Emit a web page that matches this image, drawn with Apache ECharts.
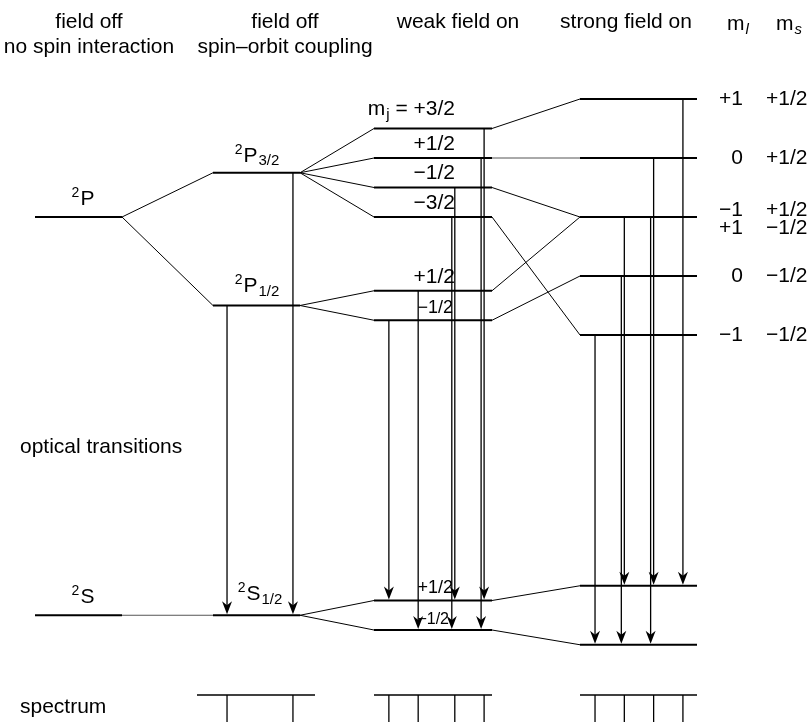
<!DOCTYPE html>
<html>
<head>
<meta charset="utf-8">
<script src="https://cdn.jsdelivr.net/npm/echarts@6/dist/echarts.min.js"></script>
<style>
  html, body { margin: 0; padding: 0; background: #fff; }
  #chart { width: 812px; height: 722px; }
</style>
</head>
<body>
<div id="chart"></div>
<script>
// ---- Energies (arbitrary units, ²P centroid at 0) ----
const termP = 0;                        // ²P, no spin interaction
const termS = -13.5;                    // ²S
const fineP = [1.5, -3];                // ²P3/2, ²P1/2
const fineS = [-13.5];                  // ²S1/2
const weakP32 = [3, 2, 1, 0];           // m_j = +3/2, +1/2, −1/2, −3/2
const weakP12 = [-2.5, -3.5];           // m_j = +1/2, −1/2
const weakS12 = [-13, -14];             // m_j = +1/2, −1/2
const strongP = [4, 2, 0, -2, -4];      // (m_l, m_s) levels
const strongS = [-12.5, -14.5];         // m_s = +1/2, −1/2

// where each weak-field sublevel goes in the strong field
const weakP32ToStrong = [strongP[0], strongP[1], strongP[2], strongP[4]];
const weakP12ToStrong = [strongP[2], strongP[3]];
const weakSToStrong = [strongS[0], strongS[1]];

// ---- Labels ----
const mjP32Labels = ['+3/2', '+1/2', '−1/2', '−3/2'];
const mjP12Labels = ['+1/2', '−1/2'];
const mjSLabels = ['+1/2', '−1/2'];
const mlLabels = ['+1', '0', '−1', '+1', '0', '−1'];
const msLabels = ['+1/2', '+1/2', '+1/2', '−1/2', '−1/2', '−1/2'];
const mlmsLevel = [strongP[0], strongP[1], strongP[2], strongP[2], strongP[3], strongP[4]];

// ---- Optical transitions [upper, lower] ----
const fineTransitions = [[fineP[1], fineS[0]], [fineP[0], fineS[0]]];
const weakTransitions = [
  [weakP12[1], weakS12[0]], [weakP12[0], weakS12[1]],
  [weakP32[3], weakS12[1]], [weakP32[2], weakS12[0]],
  [weakP32[1], weakS12[1]], [weakP32[0], weakS12[0]]
];
const strongTransitions = [
  [strongP[4], strongS[1]], [strongP[3], strongS[1]],
  [strongP[2], strongS[1]], [strongP[2], strongS[0]],
  [strongP[1], strongS[0]], [strongP[0], strongS[0]]
];

// ---- Layout ----
const FONT = '"Liberation Sans", Arial, Helvetica, sans-serif';
const COL = { col1: [35, 122], col2: [213, 300], weak: [374, 492], strong: [580, 697] };
const SPEC = {
  y: 695, k: 14.65,
  ref: { col2: 73.2, weak: 249.7, strong: 441.2 },
  bar: { col2: [197, 315], weak: [374, 492], strong: [580, 697] }
};

const rich = {
  t: { fontSize: 21, fontFamily: FONT, fill: '#000', lineHeight: 26 },
  ts: { fontSize: 18, fontFamily: FONT, fill: '#000', lineHeight: 26 },
  tx: { fontSize: 16, fontFamily: FONT, fill: '#000', lineHeight: 26 },
  sup: { fontSize: 14, fontFamily: FONT, fill: '#000', lineHeight: 14, padding: [0, 1, 12, 0] },
  sub: { fontSize: 15, fontFamily: FONT, fill: '#000', lineHeight: 15, padding: [11, 0, 0, 1] },
  subi: { fontSize: 15, fontFamily: FONT, fontStyle: 'italic', fill: '#000', lineHeight: 15, padding: [11, 0, 0, 1] }
};

// ---- Build segments ----
const levels = [];
const links = [];
const thinLinks = [];
function lvl(range, e) { levels.push([range[0], e, range[1], e]); }
lvl(COL.col1, termP); lvl(COL.col1, termS);
fineP.forEach(e => lvl(COL.col2, e)); fineS.forEach(e => lvl(COL.col2, e));
weakP32.forEach(e => lvl(COL.weak, e)); weakP12.forEach(e => lvl(COL.weak, e)); weakS12.forEach(e => lvl(COL.weak, e));
strongP.forEach(e => lvl(COL.strong, e)); strongS.forEach(e => lvl(COL.strong, e));

function link(x0, e0, x1, e1) { (e0 === e1 ? thinLinks : links).push([x0, e0, x1, e1]); }
fineP.forEach(e => link(COL.col1[1], termP, COL.col2[0], e));
link(COL.col1[1], termS, COL.col2[0], fineS[0]);
weakP32.forEach(e => link(COL.col2[1], fineP[0], COL.weak[0], e));
weakP12.forEach(e => link(COL.col2[1], fineP[1], COL.weak[0], e));
weakS12.forEach(e => link(COL.col2[1], fineS[0], COL.weak[0], e));
weakP32.forEach((e, i) => link(COL.weak[1], e, COL.strong[0], weakP32ToStrong[i]));
weakP12.forEach((e, i) => link(COL.weak[1], e, COL.strong[0], weakP12ToStrong[i]));
weakS12.forEach((e, i) => link(COL.weak[1], e, COL.strong[0], weakSToStrong[i]));

// ---- Transitions: horizontal place follows the transition energy ----
const arrows = [];
const ticks = [];
function addTransitions(list, key, lowerFloor) {
  const seen = {};
  list.forEach(([u, l]) => {
    const dE = u - l;
    const twin = list.some(([u2, l2]) => (u2 !== u || l2 !== l) && Math.abs((u2 - l2) - dE) < 1e-9);
    let x = SPEC.ref[key] + SPEC.k * dE;
    if (twin && l === lowerFloor) x -= 3;
    arrows.push([x, u, l]);
    if (!seen[dE]) { seen[dE] = true; ticks.push([SPEC.ref[key] + SPEC.k * dE, key]); }
  });
}
addTransitions(fineTransitions, 'col2', null);
addTransitions(weakTransitions, 'weak', weakS12[1]);
addTransitions(strongTransitions, 'strong', strongS[1]);

// ---- Level labels: [x, energy, text, align, dy] ----
const labels = [];
labels.push([83, termP, '{sup|2}{t|P}', 'center', -18]);
labels.push([83, termS, '{sup|2}{t|S}', 'center', -18]);
labels.push([257, fineP[0], '{sup|2}{t|P}{sub|3/2}', 'center', -17]);
labels.push([257, fineP[1], '{sup|2}{t|P}{sub|1/2}', 'center', -19]);
labels.push([260, fineS[0], '{sup|2}{t|S}{sub|1/2}', 'center', -21]);
weakP32.forEach((e, i) => {
  const txt = i === 0 ? '{t|m}{sub|j}{t| = ' + mjP32Labels[i] + '}' : '{t|' + mjP32Labels[i] + '}';
  labels.push([455, e, txt, 'right', i === 0 ? -19 : -14]);
});
labels.push([455, weakP12[0], '{t|' + mjP12Labels[0] + '}', 'right', -14]);
labels.push([453, weakP12[1], '{ts|' + mjP12Labels[1] + '}', 'right', -12]);
labels.push([453, weakS12[0], '{ts|' + mjSLabels[0] + '}', 'right', -12]);
labels.push([449, weakS12[1], '{tx|' + mjSLabels[1] + '}', 'right', -10]);
mlmsLevel.forEach((e, i) => {
  const dy = (i === 2) ? -7 : (i === 3 ? 11 : 0);
  labels.push([743, e, '{t|' + mlLabels[i] + '}', 'right', dy]);
  labels.push([766, e, '{t|' + msLabels[i] + '}', 'left', dy]);
});

function segRender(width, color) {
  return function (params, api) {
    const a = api.coord([api.value(0), api.value(1)]);
    const b = api.coord([api.value(2), api.value(3)]);
    return { type: 'line', shape: { x1: a[0], y1: a[1], x2: b[0], y2: b[1] },
             style: { stroke: color, lineWidth: width } };
  };
}

function arrowRender(params, api) {
  const top = api.coord([api.value(0), api.value(1)]);
  const bot = api.coord([api.value(0), api.value(2)]);
  const x = top[0], yb = bot[1] - 1;
  return { type: 'group', children: [
    { type: 'line', shape: { x1: x, y1: top[1], x2: x, y2: yb - 7 }, style: { stroke: '#000', lineWidth: 1.3 } },
    { type: 'polygon', shape: { points: [[x, yb], [x - 5, yb - 13], [x, yb - 9], [x + 5, yb - 13]] },
      style: { fill: '#000' } }
  ] };
}

function tickRender(params, api) {
  const x = api.coord([api.value(0), 0])[0];
  return { type: 'line', shape: { x1: x, y1: SPEC.y, x2: x, y2: 730 }, style: { stroke: '#000', lineWidth: 1.3 } };
}

function labelRender(params, api) {
  const lab = labels[api.value(2)];
  const p = api.coord([api.value(0), api.value(1)]);
  return { type: 'text', x: p[0], y: p[1] + lab[4],
    style: { text: lab[2], rich: rich, align: lab[3], verticalAlign: 'middle', fill: '#000', fontFamily: FONT } };
}

const specBars = Object.keys(SPEC.bar).map(k => SPEC.bar[k]);

function header(text, x, y, align) {
  return { type: 'text', x: x, y: y,
    style: { text: text, rich: rich, align: align || 'center', verticalAlign: 'middle', fill: '#000', fontFamily: FONT } };
}

const chart = echarts.init(document.getElementById('chart'));
chart.setOption({
  animation: false,
  backgroundColor: '#fff',
  grid: { left: 0, right: 0, top: 10.5, bottom: 3.5 },
  xAxis: { type: 'value', min: 0, max: 812, show: false },
  yAxis: { type: 'value', min: -17, max: 7, show: false },
  graphic: [
    header('{t|field off}', 89, 22),
    header('{t|no spin interaction}', 89, 47),
    header('{t|field off}', 285, 22),
    header('{t|spin–orbit coupling}', 285, 47),
    header('{t|weak field on}', 458, 22),
    header('{t|strong field on}', 626, 22),
    header('{t|m}{subi|l}', 738, 24),
    header('{t|m}{subi|s}', 789, 24),
    header('{t|optical transitions}', 20, 447, 'left'),
    header('{t|spectrum}', 20, 707, 'left')
  ],
  series: [
    { type: 'custom', name: 'links', renderItem: segRender(1, '#000'), data: links, silent: true },
    { type: 'custom', name: 'thin links', renderItem: segRender(1, '#555'), data: thinLinks, silent: true },
    { type: 'custom', name: 'levels', renderItem: segRender(2, '#000'), data: levels, silent: true },
    { type: 'custom', name: 'transitions', renderItem: arrowRender, data: arrows, silent: true },
    { type: 'custom', name: 'spectrum base', silent: true,
      renderItem: function (params, api) {
        const a = api.coord([api.value(0), 0])[0], b = api.coord([api.value(1), 0])[0];
        return { type: 'line', shape: { x1: a, y1: SPEC.y, x2: b, y2: SPEC.y }, style: { stroke: '#000', lineWidth: 1.3 } };
      },
      data: specBars },
    { type: 'custom', name: 'spectrum lines', renderItem: tickRender, data: ticks.map(t => [t[0]]), silent: true },
    { type: 'custom', name: 'labels', renderItem: labelRender, data: labels.map((l, i) => [l[0], l[1], i]), silent: true }
  ]
});
</script>
</body>
</html>
